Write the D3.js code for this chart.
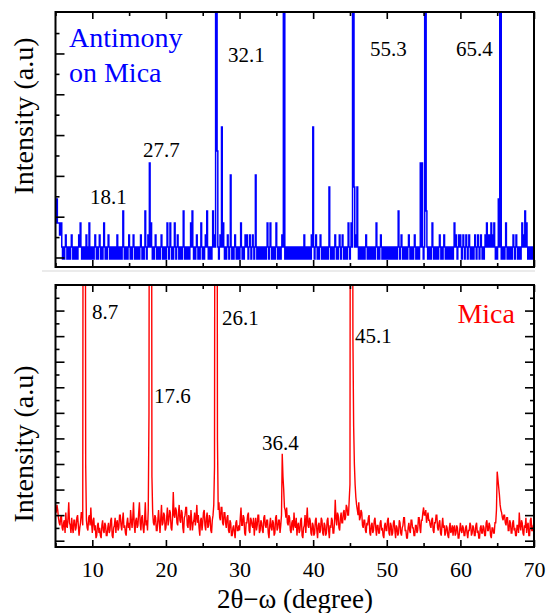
<!DOCTYPE html>
<html>
<head>
<meta charset="utf-8">
<script src="https://cdn.jsdelivr.net/npm/d3@7"></script>
<style>
  body { margin: 0; background: #fff; }
  svg { display: block; }
  text { font-family: "Liberation Serif", "Times New Roman", "Noto Serif", "DejaVu Serif", serif; }
</style>
</head>
<body>
<div id="chart"></div>
<script>
// scan: 2theta from 5 to 70 deg, one reading every 0.1 deg
const xStart = 5;
const xStep = 0.1;

// antimony film on mica, counts (quantized), 10 readings per degree
const antimony = [
  3,3,5,3,3,3,2,3,3,1,  0,1,0,1,2,1,0,1,0,1,  0,1,2,1,0,1,1,0,0,1,  0,1,2,1,3,1,0,1,0,1,  0,1,2,0,1,0,3,1,0,1,
  0,1,0,1,2,1,0,1,0,1,  2,1,0,1,0,1,3,1,0,1,  0,1,2,1,0,1,0,0,1,0,  1,0,1,0,2,1,0,1,0,1,  0,1,4,1,0,1,0,1,0,1,
  2,1,0,1,0,1,2,1,0,1,  0,1,0,1,0,1,2,1,0,1,  0,1,4,1,0,1,2,1,8,1,  3,1,0,1,0,1,2,1,0,1,  0,1,0,1,2,1,0,1,0,1,
  0,1,3,1,0,1,3,1,0,1,  0,1,3,1,0,1,2,1,0,1,  0,1,0,1,4,1,0,1,0,1,  0,1,0,1,3,1,4,1,0,1,  0,1,2,1,0,1,0,1,3,1,
  0,1,0,1,2,1,4,1,0,1,  0,1,0,1,4,1,2,1,200,200,  9,1,0,1,2,1,11,1,3,1,  0,1,0,1,2,1,0,1,7,1,  0,1,0,1,2,1,0,1,0,1,
  0,1,3,1,0,1,0,1,2,1,  2,1,0,1,2,1,0,1,2,1,  0,1,7,1,0,1,0,1,0,1,  0,1,0,1,0,1,0,1,3,1,  0,1,3,1,0,1,0,1,0,1,
  3,1,0,1,0,1,0,1,2,1,  200,200,0,1,0,1,0,1,0,1,  0,1,1,0,1,0,1,0,1,1,  0,1,0,1,1,0,1,0,2,1,  0,1,0,1,0,1,1,0,2,1,
  11,1,0,1,2,1,0,1,0,1,  2,1,0,1,0,1,0,1,0,1,  0,1,6,1,0,1,0,1,0,1,  2,1,0,1,0,1,2,1,0,1,  2,1,0,1,0,1,0,1,3,1,
  0,1,3,1,200,200,6,1,2,1,  6,1,0,1,0,1,0,1,0,1,  0,1,2,1,0,1,0,1,0,1,  0,1,0,1,0,1,3,1,0,1,  0,1,2,1,0,1,0,1,0,1,
  0,1,0,1,0,1,0,1,0,1,  0,1,0,1,0,1,4,1,0,1,  2,1,0,1,0,1,0,1,0,1,  2,1,0,1,0,1,0,1,2,1,  0,1,0,1,0,1,8,1,8,1,
  0,1,200,200,4,1,0,1,0,1,  0,1,3,1,0,1,0,1,0,1,  0,1,2,1,0,1,0,1,2,1,  0,1,0,1,0,1,0,1,0,1,  0,1,3,1,2,1,0,1,2,1,
  2,1,0,1,2,1,0,1,2,1,  0,1,2,1,0,1,0,1,0,1,  2,1,0,1,2,1,0,1,2,1,  0,1,0,1,2,1,3,1,2,1,  2,1,3,1,2,1,3,1,0,1,
  0,1,5,1,200,200,0,1,0,1,  0,1,3,1,0,1,0,1,0,1,  0,1,2,1,0,1,2,1,0,1,  0,1,0,1,3,1,2,1,4,1,  3,1,0,1,0,1,0,1,0,1,
  0
];

// bare mica substrate, arbitrary units, 10 readings per degree
const mica = [
  13,11,14,12,9,7,6,9,10,5,  4,7,8,3,11,6,5,9,15,7,  6,3,9,5,3,8,8,4,5,9,  10,6,2,5,7,11,11,6,300,300,  300,30,8,5,4,9,10,6,13,7,
  3,8,9,4,6,1,2,6,7,3,  5,2,1,6,8,4,3,7,6,2,  2,5,7,3,4,8,9,2,1,5,  6,9,3,7,8,4,5,10,10,6,  4,8,11,5,6,3,2,7,9,5,
  7,4,12,8,5,9,15,6,3,8,  9,5,6,11,15,7,4,9,10,5,  3,8,15,6,8,4,12,50,300,300,  300,25,11,7,6,10,9,4,4,8,  12,7,3,9,14,6,7,11,10,4,
  5,9,13,6,8,12,11,5,4,9,  19,10,9,13,12,7,6,11,14,8,  7,12,11,5,3,9,10,13,13,6,  5,10,9,4,12,8,4,7,8,11,  6,9,14,7,10,5,2,8,9,4,
  7,11,12,6,4,9,11,5,6,10,  9,4,3,8,10,14,29,300,300,300,  40,12,15,9,8,13,13,7,6,11,  11,7,5,9,10,4,3,8,7,2,  2,5,6,3,1,7,8,4,4,6,
  4,9,13,6,6,10,9,3,2,7,  7,10,11,4,3,9,8,6,5,9,  2,6,9,4,6,10,10,3,4,8,  7,4,3,9,10,6,5,8,8,3,  1,6,9,5,4,8,7,2,3,9,
  10,4,5,8,8,3,6,10,34,25,  20,13,12,9,13,7,6,10,9,4,  3,7,8,4,11,6,5,9,2,6,  7,3,4,8,9,2,1,5,6,10,  3,8,13,6,5,9,8,3,2,7,
  6,2,3,8,9,4,1,6,7,3,  4,9,8,3,2,7,6,2,3,8,  9,4,1,6,5,9,8,3,3,7,  16,9,6,11,10,5,4,9,11,7,  7,11,12,8,9,14,13,10,10,16,
  22,300,300,300,80,45,30,22,17,14,  12,10,15,8,9,12,11,6,5,8,  8,4,3,7,6,9,10,3,2,6,  7,3,4,8,9,5,2,6,6,3,  3,7,8,4,5,2,1,6,7,4,
  4,8,9,3,2,7,6,2,3,7,  8,4,1,6,5,2,3,8,7,3,  2,5,6,9,9,4,4,1,1,5,  7,4,3,8,8,5,5,2,2,6,  6,3,4,9,9,5,3,8,8,11,
  13,10,10,12,7,9,11,8,8,6,  5,8,9,4,3,7,7,10,10,5,  4,7,8,3,2,6,9,5,6,2,  3,6,5,2,1,5,7,3,4,6,  2,5,6,2,3,6,5,1,1,4,
  7,4,3,6,5,2,2,5,6,3,  1,4,4,7,6,2,3,6,5,2,  2,6,7,3,4,1,1,5,6,3,  3,6,5,2,2,7,8,4,4,7,  6,2,1,5,5,3,3,7,7,12,
  27,24,21,18,14,12,11,9,8,10,  10,7,6,9,9,4,4,8,7,3,  3,7,8,4,5,2,2,6,6,3,  11,6,4,8,7,3,2,6,5,9,  3,6,7,2,2,8,9,4,4,6,
  6
];

const xMajorTicks = [10, 20, 30, 40, 50, 60, 70];
const xMinorTicks = [5, 15, 25, 35, 45, 55, 65];
const topMajorTicks = [0.125, 3.525, 6.925, 10.325, 13.725, 17.125];
const topMinorTicks = [1.825, 5.225, 8.625, 12.025, 15.425, 18.825];
const botMajorTicks = [0, 10, 20, 30, 40, 50, 60, 70, 80, 90];
const botMinorTicks = [5, 15, 25, 35, 45, 55, 65, 75, 85, 95];

// peak labels: [text, 2theta, intensity]
const topLabels = [["32.1", 28.43, 16.42], ["27.7", 16.89, 8.5], ["18.1", 9.69, 4.58],
                   ["55.3", 47.73, 16.92], ["65.4", 59.41, 16.92]];
const botLabels = [["8.7", 9.96, 86.7], ["17.6", 18.38, 53.9], ["26.1", 27.62, 84.4],
                   ["36.4", 33.05, 35.5], ["45.1", 45.68, 77.3]];

const width = 546, height = 613;

const svg = d3.select("#chart").append("svg")
    .attr("width", width)
    .attr("height", height);

const x = d3.scaleLinear().domain([5, 70]).range([55.5, 534]);
const yTop = d3.scaleLinear().domain([-0.667, 20.58]).range([267, 12]);
const yBot = d3.scaleLinear().domain([-2.46, 100]).range([547, 285]);

// faint separator under the top panel
svg.append("line")
    .attr("x1", 42).attr("x2", 535)
    .attr("y1", 271).attr("y2", 271)
    .attr("stroke", "#e4e4e4")
    .attr("stroke-width", 1.5);

function panel(id, y, data, color, strokeW, curve) {
    const [y0, y1] = y.range();
    svg.append("clipPath").attr("id", id)
        .append("rect")
        .attr("x", x.range()[0]).attr("y", y1)
        .attr("width", x.range()[1] - x.range()[0])
        .attr("height", y0 - y1);

    const line = d3.line()
        .x((d, i) => x(xStart + i * xStep))
        .y(d => y(d))
        .curve(curve);

    svg.append("path")
        .datum(data)
        .attr("clip-path", "url(#" + id + ")")
        .attr("d", line)
        .attr("fill", "none")
        .attr("stroke", color)
        .attr("stroke-width", strokeW);
}

panel("clipTop", yTop, antimony, "#0000ff", 1.5, d3.curveStep);
panel("clipBot", yBot, mica, "#ff0000", 1.4, d3.curveLinear);

function ticks(axis, transform, values, size) {
    const g = svg.append("g")
        .attr("transform", transform)
        .call(axis.tickValues(values).tickSize(size).tickFormat(""));
    g.select(".domain").remove();
    g.selectAll(".tick line").attr("stroke", "#000").attr("stroke-width", 1.6);
    return g;
}

// top panel ticks (no right ticks)
ticks(d3.axisTop(x), "translate(0,12)", xMajorTicks, -7);
ticks(d3.axisTop(x), "translate(0,12)", xMinorTicks, -4);
ticks(d3.axisBottom(x), "translate(0,267)", xMajorTicks, -7);
ticks(d3.axisBottom(x), "translate(0,267)", xMinorTicks, -4);
ticks(d3.axisLeft(yTop), "translate(55.5,0)", topMajorTicks, -9);
ticks(d3.axisLeft(yTop), "translate(55.5,0)", topMinorTicks, -4);

// bottom panel ticks
ticks(d3.axisTop(x), "translate(0,285)", xMajorTicks, -7);
ticks(d3.axisTop(x), "translate(0,285)", xMinorTicks, -4);
ticks(d3.axisBottom(x), "translate(0,547)", xMinorTicks, -4);
ticks(d3.axisLeft(yBot), "translate(55.5,0)", botMajorTicks, -9);
ticks(d3.axisLeft(yBot), "translate(55.5,0)", botMinorTicks, -4);
ticks(d3.axisRight(yBot), "translate(534,0)", botMajorTicks, -9);
ticks(d3.axisRight(yBot), "translate(534,0)", botMinorTicks, -4);

const xAxis = svg.append("g")
    .attr("transform", "translate(0,547)")
    .call(d3.axisBottom(x).tickValues(xMajorTicks).tickSize(-7).tickPadding(14));
xAxis.select(".domain").remove();
xAxis.selectAll(".tick line").attr("stroke", "#000").attr("stroke-width", 1.6);
xAxis.selectAll("text")
    .attr("font-size", 22)
    .attr("fill", "#000");

// frames
[yTop, yBot].forEach(y => {
    svg.append("rect")
        .attr("x", x.range()[0]).attr("y", y.range()[1])
        .attr("width", x.range()[1] - x.range()[0])
        .attr("height", y.range()[0] - y.range()[1])
        .attr("fill", "none")
        .attr("stroke", "#000")
        .attr("stroke-width", 2);
});

// peak labels
svg.append("g").selectAll("text")
    .data(topLabels)
    .enter()
    .append("text")
    .attr("x", d => x(d[1]))
    .attr("y", d => yTop(d[2]))
    .attr("font-size", 21)
    .text(d => d[0]);

svg.append("g").selectAll("text")
    .data(botLabels)
    .enter()
    .append("text")
    .attr("x", d => x(d[1]))
    .attr("y", d => yBot(d[2]))
    .attr("font-size", 21)
    .text(d => d[0]);

// sample names
const sampleTop = svg.append("text")
    .attr("font-size", 28)
    .attr("fill", "#0000ff");
sampleTop.append("tspan").attr("x", x(6.83)).attr("y", yTop(17.67)).text("Antimony");
sampleTop.append("tspan").attr("x", x(6.83)).attr("y", yTop(14.75)).text("on Mica");

svg.append("text")
    .attr("x", x(67.41))
    .attr("y", yBot(85.2))
    .attr("text-anchor", "end")
    .attr("font-size", 28)
    .attr("fill", "#ff0000")
    .text("Mica");

// axis titles
[[yTop, 116], [yBot, 444]].forEach(([y, cy]) => {
    svg.append("text")
        .attr("transform", "translate(33," + cy + ") rotate(-90)")
        .attr("text-anchor", "middle")
        .attr("font-size", 28)
        .text("Intensity (a.u)");
});

svg.append("text")
    .attr("x", 295)
    .attr("y", 608)
    .attr("text-anchor", "middle")
    .attr("font-size", 27)
    .text("2θ−ω (degree)");
</script>
</body>
</html>
